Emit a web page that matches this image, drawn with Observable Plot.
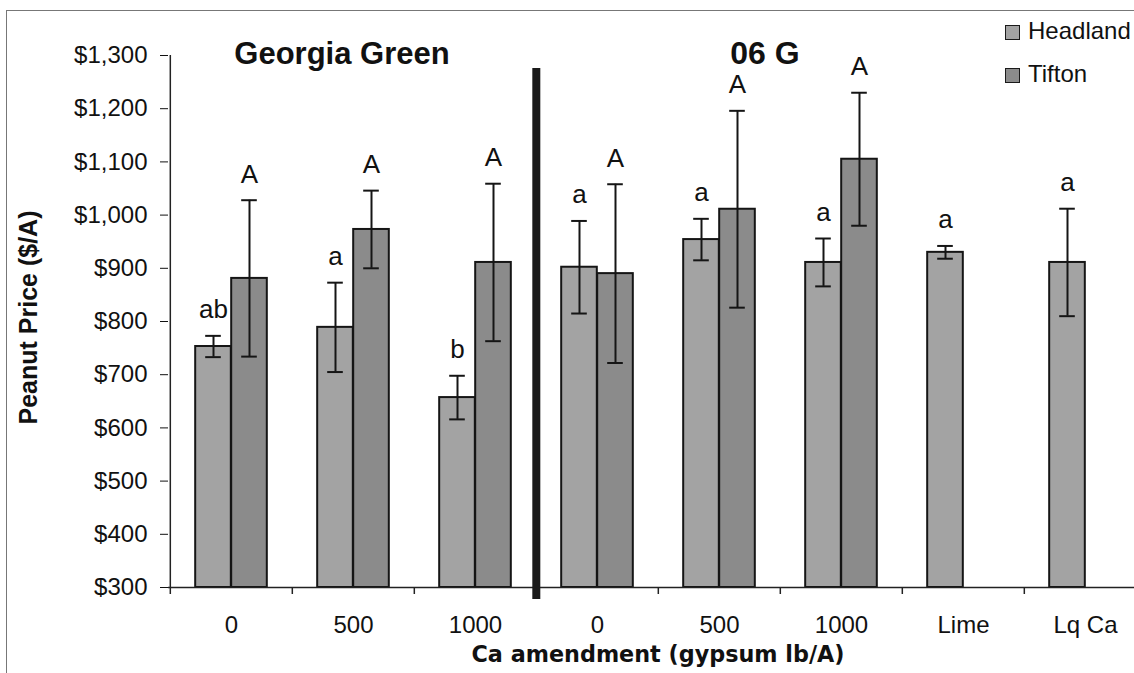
<!DOCTYPE html>
<html>
<head>
<meta charset="utf-8">
<script src="https://cdn.jsdelivr.net/npm/d3@7"></script>
<script src="https://cdn.jsdelivr.net/npm/@observablehq/plot@0.6"></script>
<style>
  body { margin: 0; background: #fff; overflow: hidden; }
  #wrap { position: relative; width: 1134px; height: 673px; overflow: hidden; font-family: "Liberation Sans", Arial, sans-serif; color: #111; }
  #chart { position: absolute; left: 0; top: 0; }
  #border { position: absolute; left: 6px; top: 10px; width: 1300px; height: 800px; border-left: 1px solid #777; border-top: 1px solid #777; pointer-events: none; z-index: 2; }
  .title { position: absolute; font-weight: bold; white-space: nowrap; line-height: 1.15; transform: translateX(-50%); z-index: 3; }
  .legend { position: absolute; left: 1005px; z-index: 3; }
  .legend .item { position: absolute; left: 0; white-space: nowrap; font-size: 24px; line-height: 24px; }
  .legend .sw { position: absolute; left: 0; width: 13px; height: 13px; border: 1px solid #1a1a1a; }
  .legend .lab { position: absolute; left: 23px; }
</style>
</head>
<body>
<div id="wrap">
  <div id="chart"></div>
  <div id="border"></div>
  <div id="titles"></div>
  <div class="legend" id="legend"></div>
</div>
<script>
// ---- data ----
const categories = ["GG 0", "GG 500", "GG 1000", "06G 0", "06G 500", "06G 1000", "Lime", "Lq Ca"];
const tickLabels = ["0", "500", "1000", "0", "500", "1000", "Lime", "Lq Ca"];
const series = ["Headland", "Tifton"];
const headland = [753, 789, 657, 902, 954, 911, 930, 911];
const headlandErr = [20, 84, 41, 87, 39, 45, 12, 101];
const headlandLetters = ["ab", "a", "b", "a", "a", "a", "a", "a"];
const tifton = [881, 973, 911, 890, 1011, 1105, null, null];
const tiftonErr = [147, 73, 148, 168, 185, 125, null, null];
const tiftonLetters = ["A", "A", "A", "A", "A", "A", null, null];
const yTicks = [300, 400, 500, 600, 700, 800, 900, 1000, 1100, 1200, 1300];
const varietyTitles = ["Georgia Green", "06 G"];
const yTitle = "Peanut Price ($/A)";
const xTitle = "Ca amendment (gypsum lb/A)";

// ---- table built from the arrays ----
const rows = [];
categories.forEach((c, i) => {
  rows.push({cat: c, series: "Headland", value: headland[i], err: headlandErr[i], letter: headlandLetters[i]});
  if (tifton[i] != null) rows.push({cat: c, series: "Tifton", value: tifton[i], err: tiftonErr[i], letter: tiftonLetters[i]});
});
const headRows = rows.filter(d => d.series === "Headland");
const tifRows = rows.filter(d => d.series === "Tifton");

// ---- layout / style ----
const W = 1134, H = 673;
const marginLeft = 168, marginTop = 55, marginBottom = 86, marginRight = -13;
const bw = (W - marginLeft - marginRight) / categories.length;
const innerH = H - marginTop - marginBottom;
const barW = 36, off = barW / 2, capW = 16;
const fills = {Headland: "#a3a3a3", Tifton: "#8b8b8b"};
const ink = "#151515";
const yMin = yTicks[0];

const chart = Plot.plot({
  width: W,
  height: H,
  marginLeft, marginRight, marginTop, marginBottom,
  style: {fontFamily: "'Liberation Sans', Arial, sans-serif", fontSize: "24px", color: "#111", background: "transparent", overflow: "visible"},
  x: {domain: categories, padding: 0, tickSize: 0, tickPadding: 28, tickFormat: d => tickLabels[categories.indexOf(d)], label: null},
  y: {domain: [yTicks[0], yTicks[yTicks.length - 1]], ticks: yTicks, tickFormat: d3.format("$,"), tickSize: 8, tickPadding: 13, label: null},
  marks: [
    // bars
    Plot.barY(headRows, {x: "cat", y1: yMin, y2: "value", fill: fills.Headland, stroke: ink, strokeWidth: 2, insetLeft: bw / 2 - barW, insetRight: bw / 2}),
    Plot.barY(tifRows, {x: "cat", y1: yMin, y2: "value", fill: fills.Tifton, stroke: ink, strokeWidth: 2, insetLeft: bw / 2, insetRight: bw / 2 - barW}),
    // error bars
    Plot.ruleX(headRows, {x: "cat", y1: d => d.value - d.err, y2: d => d.value + d.err, dx: -off, stroke: ink, strokeWidth: 2}),
    Plot.ruleX(tifRows, {x: "cat", y1: d => d.value - d.err, y2: d => d.value + d.err, dx: off, stroke: ink, strokeWidth: 2}),
    Plot.tickY(headRows, {x: "cat", y: d => d.value + d.err, insetLeft: bw / 2 - off - capW / 2, insetRight: bw / 2 + off - capW / 2, stroke: ink, strokeWidth: 2}),
    Plot.tickY(headRows, {x: "cat", y: d => d.value - d.err, insetLeft: bw / 2 - off - capW / 2, insetRight: bw / 2 + off - capW / 2, stroke: ink, strokeWidth: 2}),
    Plot.tickY(tifRows, {x: "cat", y: d => d.value + d.err, insetLeft: bw / 2 + off - capW / 2, insetRight: bw / 2 - off - capW / 2, stroke: ink, strokeWidth: 2}),
    Plot.tickY(tifRows, {x: "cat", y: d => d.value - d.err, insetLeft: bw / 2 + off - capW / 2, insetRight: bw / 2 - off - capW / 2, stroke: ink, strokeWidth: 2}),
    // significance letters
    Plot.text(headRows, {x: "cat", y: d => d.value + d.err, text: "letter", dx: -off, dy: -26, fontSize: 26}),
    Plot.text(tifRows, {x: "cat", y: d => d.value + d.err, text: "letter", dx: off, dy: -26, fontSize: 26}),
    // axis lines and category boundary ticks
    Plot.ruleY([yMin], {stroke: "#222", strokeWidth: 1.5}),
    Plot.ruleX([categories[0]], {dx: -bw / 2, stroke: "#222", strokeWidth: 1.5}),
    Plot.ruleX(categories, {x: d => d, dx: -bw / 2, insetTop: innerH, insetBottom: -7, stroke: "#222", strokeWidth: 1.5}),
    // separator between varieties
    Plot.ruleX([categories[3]], {dx: -bw / 2, insetTop: 13, insetBottom: -12, stroke: "#1a1a1a", strokeWidth: 8}),
    // axis titles
    Plot.text([yTitle], {frameAnchor: "left", rotate: -90, dx: -140, dy: -4, textAnchor: "middle", lineAnchor: "middle", fontSize: 25, fontWeight: "bold"}),
    Plot.text([xTitle], {frameAnchor: "bottom", dy: 67, textAnchor: "middle", lineAnchor: "middle", fontSize: 22.3, fontWeight: "bold", fontFamily: "'DejaVu Sans', sans-serif"}),
    Plot.axisX({tickSize: 0, tickPadding: 28, tickFormat: d => tickLabels[categories.indexOf(d)]}),
    Plot.axisY({ticks: yTicks, tickSize: 8, tickPadding: 13, tickFormat: d3.format("$,")})
  ]
});
document.getElementById("chart").appendChild(chart);

// variety titles
const titles = document.getElementById("titles");
const tSpec = [
  {text: varietyTitles[0], cx: 342, top: 36, size: 31},
  {text: varietyTitles[1], cx: 765, top: 35, size: 32}
];
tSpec.forEach(t => {
  const d = document.createElement("div");
  d.className = "title";
  d.textContent = t.text;
  d.style.left = t.cx + "px";
  d.style.top = t.top + "px";
  d.style.fontSize = t.size + "px";
  titles.appendChild(d);
});

// legend
const legend = document.getElementById("legend");
series.forEach((s, i) => {
  const item = document.createElement("div");
  item.className = "item";
  item.style.top = (19 + i * 42.5) + "px";
  const sw = document.createElement("div");
  sw.className = "sw";
  sw.style.background = fills[s];
  sw.style.top = "6px";
  const lab = document.createElement("div");
  lab.className = "lab";
  lab.textContent = s;
  item.appendChild(sw);
  item.appendChild(lab);
  legend.appendChild(item);
});
</script>
</body>
</html>
